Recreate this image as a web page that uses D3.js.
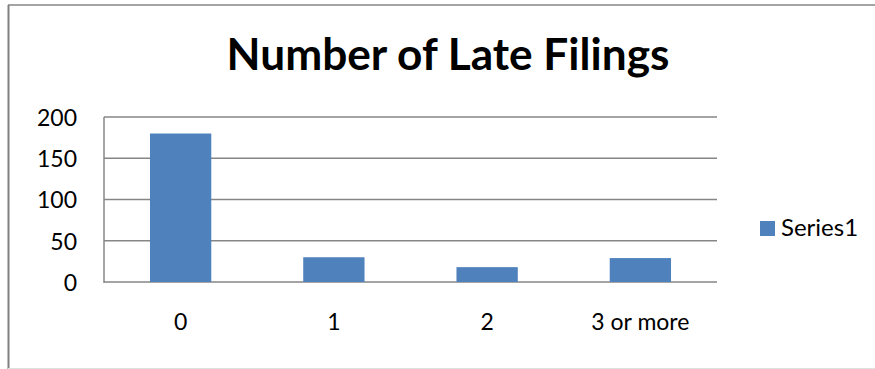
<!DOCTYPE html>
<html>
<head>
<meta charset="utf-8">
<script src="https://cdn.jsdelivr.net/npm/d3@7"></script>
<style>
  body { margin: 0; background: #fff; }
  svg { display: block; }
  text { font-family: Lato, "Open Sans", sans-serif; fill: #000; }
</style>
</head>
<body>
<svg width="875" height="369"></svg>
<script>
// chart data
const categories = ["0", "1", "2", "3 or more"];
const series1 = [180, 30, 18, 29];
const yTicks = [0, 50, 100, 150, 200];
const seriesName = "Series1";
const title = "Number of Late Filings";

const svg = d3.select("svg");

// outer chart border
svg.append("line").attr("x1", 8).attr("x2", 875).attr("y1", 5).attr("y2", 5)
  .attr("stroke", "#868686").attr("stroke-width", 1.5);
svg.append("line").attr("x1", 8.5).attr("x2", 8.5).attr("y1", 5).attr("y2", 369)
  .attr("stroke", "#808080").attr("stroke-width", 2);
svg.append("line").attr("x1", 8).attr("x2", 875).attr("y1", 368.5).attr("y2", 368.5)
  .attr("stroke", "#e0e0e0").attr("stroke-width", 1);

const plot = { left: 104, right: 717, top: 117, bottom: 282 };

const x = d3.scaleBand()
  .domain(categories)
  .range([plot.left, plot.right])
  .paddingInner(0.6)
  .paddingOuter(0.3);

const y = d3.scaleLinear()
  .domain([0, 200])
  .range([plot.bottom, plot.top]);

// gridlines
svg.append("g")
  .selectAll("line")
  .data(yTicks)
  .enter()
  .append("line")
    .attr("x1", plot.left)
    .attr("x2", plot.right)
    .attr("y1", d => y(d))
    .attr("y2", d => y(d))
    .attr("stroke", "#868686")
    .attr("stroke-width", 1.5);

// bars
svg.append("g")
  .selectAll("rect")
  .data(series1)
  .enter()
  .append("rect")
    .attr("x", (d, i) => x(categories[i]))
    .attr("y", d => y(d))
    .attr("width", x.bandwidth())
    .attr("height", d => y(0) - y(d))
    .attr("fill", "#4F81BD");

// vertical axis line
svg.append("line")
  .attr("x1", plot.left).attr("x2", plot.left)
  .attr("y1", plot.top).attr("y2", plot.bottom + 1)
  .attr("stroke", "#868686").attr("stroke-width", 1.5);

// y axis labels
const yAxis = d3.axisLeft(y).tickValues(yTicks).tickSize(0).tickPadding(27);
svg.append("g")
  .attr("transform", `translate(${plot.left},0)`)
  .call(yAxis)
  .call(g => g.select(".domain").remove())
  .selectAll("text")
    .attr("font-family", "Lato, 'Open Sans', sans-serif")
    .attr("font-size", 23)
    .attr("dy", "0.36em");

// x axis labels
const xAxis = d3.axisBottom(x).tickSize(0).tickPadding(32);
svg.append("g")
  .attr("transform", `translate(0,${plot.bottom})`)
  .call(xAxis)
  .call(g => g.select(".domain").remove())
  .selectAll("text")
    .attr("font-family", "Lato, 'Open Sans', sans-serif")
    .attr("font-size", 23);

// title, sized to the reference width
const t = svg.append("text")
  .attr("x", 448)
  .attr("y", 70)
  .attr("text-anchor", "middle")
  .attr("font-family", "'Open Sans', sans-serif")
  .attr("font-weight", "bold")
  .attr("font-size", 39)
  .text(title);
const len = t.node().getComputedTextLength();
t.attr("font-size", 39 * 443 / len);

// legend
svg.append("rect")
  .attr("x", 760).attr("y", 221)
  .attr("width", 15).attr("height", 15)
  .attr("fill", "#4F81BD");
svg.append("text")
  .attr("x", 781).attr("y", 236)
  .attr("font-size", 24)
  .text(seriesName);
</script>
</body>
</html>
